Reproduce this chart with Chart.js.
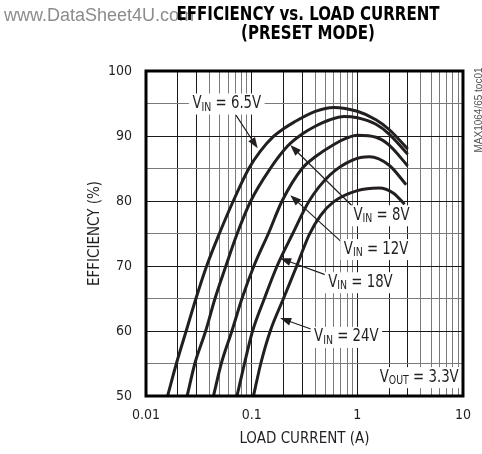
<!DOCTYPE html>
<html>
<head>
<meta charset="utf-8">
<script src="https://cdn.jsdelivr.net/npm/chart.js@4.4.1/dist/chart.umd.min.js"></script>
<style>
  html, body { margin: 0; padding: 0; background: #fff; }
</style>
</head>
<body>
<canvas id="effChart" width="482" height="454"></canvas>
<script>
// efficiency vs load current, one pair of arrays per input voltage
const seriesNames = ['6.5V', '8V', '12V', '18V', '24V'];

const current6v5 = [0.016, 0.0194, 0.024, 0.0297, 0.0375, 0.0495, 0.067, 0.094, 0.12, 0.16, 0.2, 0.25, 0.4, 0.6, 1, 1.5, 2, 3];
const eff6v5     = [50, 55, 60, 65, 70, 75, 80, 85, 87.6, 89.9, 91.1, 92.1, 93.8, 94.4, 93.8, 92.5, 91, 88];

const current8v = [0.0245, 0.029, 0.0367, 0.045, 0.057, 0.073, 0.098, 0.15, 0.22, 0.3, 0.4, 0.55, 0.75, 1, 1.5, 2, 3];
const eff8v     = [50, 55, 60, 65, 70, 75, 80, 85, 88.5, 90.3, 91.5, 92.5, 93, 92.8, 91.8, 90.3, 87.2];

const current12v = [0.0435, 0.0516, 0.065, 0.081, 0.105, 0.144, 0.194, 0.3, 0.4, 0.6, 0.8, 1, 1.5, 2, 3];
const eff12v     = [50, 55, 60, 65, 70, 75, 80, 85, 86.8, 88.7, 89.7, 90.1, 89.8, 88.6, 85.4];

const current18v = [0.0726, 0.0855, 0.102, 0.132, 0.174, 0.245, 0.35, 0.55, 0.9, 1.3, 2, 2.9];
const eff18v     = [50, 55, 60, 65, 70, 75, 80, 84, 86.3, 86.8, 85.5, 82.5];

const current24v = [0.104, 0.122, 0.15, 0.2, 0.267, 0.35, 0.45, 0.6, 1, 1.6, 2.2, 2.8];
const eff24v     = [50, 55, 60, 65, 70, 74.8, 77.8, 79.9, 81.6, 82, 81.2, 79.5];

// axis ticks
const xDecades = [0.01, 0.1, 1, 10];
const xDecadeLabels = ['0.01', '0.1', '1', '10'];
const yTicks = [50, 55, 60, 65, 70, 75, 80, 85, 90, 95, 100];

const COND = '"DejaVu Sans Condensed", "Liberation Sans Narrow", sans-serif';
const INK = '#231f20';

function pairs(xs, ys) {
  return xs.map((x, i) => ({ x: x, y: ys[i] }));
}

// callouts: text + where the arrow starts/ends, in data units (A, %)
const callouts = [
  { main: 'V', sub: 'IN', rest: ' = 6.5V', at: [0.0275, 95], from: [0.071, 93.2], to: [0.114, 88.1] },
  { main: 'V', sub: 'IN', rest: ' = 8V', at: [0.92, 77.8], from: [0.9, 79.2], to: [0.232, 88.6] },
  { main: 'V', sub: 'IN', rest: ' = 12V', at: [0.745, 72.6], from: [0.72, 73.6], to: [0.232, 80.9] },
  { main: 'V', sub: 'IN', rest: ' = 18V', at: [0.53, 67.5], from: [0.51, 68.6], to: [0.186, 71.2] },
  { main: 'V', sub: 'IN', rest: ' = 24V', at: [0.39, 59.1], from: [0.38, 60.2], to: [0.186, 62.0] },
  { main: 'V', sub: 'OUT', rest: ' = 3.3V', at: [1.63, 52.9] }
];

// text is squeezed horizontally to get closer to the condensed face of the original
const SQUEEZE = 0.87;

function drawCallText(ctx, c, x, y) {
  ctx.save();
  ctx.translate(x, y);
  ctx.scale(SQUEEZE, 1);
  ctx.font = '17px ' + COND;
  const w1 = ctx.measureText(c.main).width;
  const w3 = ctx.measureText(c.rest).width;
  ctx.font = '12px ' + COND;
  const w2 = ctx.measureText(c.sub).width;
  const total = w1 + w2 + w3;
  ctx.fillStyle = '#fff';
  ctx.fillRect(-4, -10, total + 8, 21);
  ctx.fillStyle = INK;
  ctx.textBaseline = 'middle';
  ctx.textAlign = 'left';
  ctx.font = '17px ' + COND;
  ctx.fillText(c.main, 0, 0);
  ctx.font = '12px ' + COND;
  ctx.fillText(c.sub, w1, 4);
  ctx.font = '17px ' + COND;
  ctx.fillText(c.rest, w1 + w2, 0);
  ctx.restore();
}

function drawArrow(ctx, x1, y1, x2, y2) {
  const ang = Math.atan2(y2 - y1, x2 - x1);
  const len = 11, half = 4;
  ctx.strokeStyle = INK;
  ctx.lineWidth = 1.2;
  ctx.beginPath();
  ctx.moveTo(x1, y1);
  ctx.lineTo(x2 - Math.cos(ang) * len * 0.8, y2 - Math.sin(ang) * len * 0.8);
  ctx.stroke();
  ctx.fillStyle = INK;
  ctx.beginPath();
  ctx.moveTo(x2, y2);
  ctx.lineTo(x2 - Math.cos(ang) * len - Math.sin(ang) * half, y2 - Math.sin(ang) * len + Math.cos(ang) * half);
  ctx.lineTo(x2 - Math.cos(ang) * len + Math.sin(ang) * half, y2 - Math.sin(ang) * len - Math.cos(ang) * half);
  ctx.closePath();
  ctx.fill();
}

const decor = {
  id: 'decor',
  beforeDatasetsDraw(chart) {
    const { ctx, scales } = chart;
    ctx.save();
    callouts.forEach(c => {
      if (c.from) {
        drawArrow(ctx,
          scales.x.getPixelForValue(c.from[0]), scales.y.getPixelForValue(c.from[1]),
          scales.x.getPixelForValue(c.to[0]), scales.y.getPixelForValue(c.to[1]));
      }
    });
    callouts.forEach(c => {
      drawCallText(ctx, c, scales.x.getPixelForValue(c.at[0]), scales.y.getPixelForValue(c.at[1]));
    });
    ctx.restore();
  },
  afterDraw(chart) {
    const { ctx, chartArea: a } = chart;
    ctx.save();
    // frame
    ctx.strokeStyle = '#000';
    ctx.lineWidth = 3;
    ctx.strokeRect(a.left, a.top, a.right - a.left, a.bottom - a.top);

    // watermark, then title over it
    ctx.fillStyle = '#8c8c8c';
    ctx.font = '18px "Liberation Sans", Arial, sans-serif';
    ctx.textAlign = 'left';
    ctx.textBaseline = 'alphabetic';
    ctx.fillText('www.DataSheet4U.com', 4, 21);

    ctx.save();
    ctx.translate(308, 0);
    ctx.scale(0.88, 1);
    ctx.fillStyle = '#000';
    ctx.font = 'bold 19px ' + COND;
    ctx.textAlign = 'center';
    ctx.fillText('EFFICIENCY vs. LOAD CURRENT', 0, 20);
    ctx.fillText('(PRESET MODE)', 0, 39);
    ctx.restore();

    // side code
    ctx.translate(479, 110);
    ctx.rotate(-Math.PI / 2);
    ctx.fillStyle = '#555';
    ctx.font = '10px "Liberation Sans", Arial, sans-serif';
    ctx.textAlign = 'center';
    ctx.textBaseline = 'middle';
    ctx.fillText('MAX1064/65 toc01', 0, 0);
    ctx.restore();
  }
};

const ctx = document.getElementById('effChart').getContext('2d');
new Chart(ctx, {
  type: 'line',
  data: {
    datasets: [
      { label: seriesNames[0], data: pairs(current6v5, eff6v5) },
      { label: seriesNames[1], data: pairs(current8v, eff8v) },
      { label: seriesNames[2], data: pairs(current12v, eff12v) },
      { label: seriesNames[3], data: pairs(current18v, eff18v) },
      { label: seriesNames[4], data: pairs(current24v, eff24v) }
    ]
  },
  options: {
    responsive: false,
    animation: false,
    events: [],
    layout: { padding: { left: 0, right: 10, top: 71, bottom: 0 } },
    elements: {
      point: { radius: 0 },
      line: { borderColor: INK, borderWidth: 3, cubicInterpolationMode: 'monotone', fill: false }
    },
    plugins: { legend: { display: false }, tooltip: { enabled: false }, title: { display: false } },
    scales: {
      x: {
        type: 'logarithmic',
        min: 0.01,
        max: 10,
        afterFit(scale) { scale.height = 58; },
        afterBuildTicks(scale) {
          const t = [];
          xDecades.forEach((d, i) => {
            t.push({ value: d });
            if (i < xDecades.length - 1) {
              for (let m = 2; m <= 9; m++) t.push({ value: Number((d * m).toPrecision(3)) });
            }
          });
          scale.ticks = t;
        },
        border: { display: false },
        grid: {
          drawTicks: false,
          lineWidth: 1,
          color(c) {
            const v = c.tick ? c.tick.value : 1;
            const m = Math.round(v / Math.pow(10, Math.floor(Math.log10(v) + 1e-9)));
            return m <= 3 ? '#1a1a1a' : '#7a7a7a';
          }
        },
        ticks: {
          autoSkip: false,
          maxRotation: 0,
          padding: 11,
          color: INK,
          font: { family: COND, size: 14 },
          callback(v) {
            const i = xDecades.indexOf(v);
            return i >= 0 ? xDecadeLabels[i] : '';
          }
        },
        title: {
          display: true,
          text: 'LOAD CURRENT (A)',
          color: INK,
          font: { family: COND, size: 15 },
          padding: { top: 0, bottom: 6 }
        }
      },
      y: {
        min: 50,
        max: 100,
        afterFit(scale) { scale.width = 146; },
        afterBuildTicks(scale) { scale.ticks = yTicks.map(v => ({ value: v })); },
        border: { display: false },
        grid: {
          drawTicks: false,
          lineWidth: 1,
          color(c) { return c.tick && c.tick.value % 10 === 0 ? '#1a1a1a' : '#7a7a7a'; }
        },
        ticks: {
          padding: 14,
          color: INK,
          font: { family: COND, size: 14 },
          callback(v) { return v % 10 === 0 ? String(v) : ''; }
        },
        title: {
          display: true,
          text: 'EFFICIENCY (%)',
          color: INK,
          font: { family: COND, size: 15 },
          padding: { top: 86, bottom: 0 }
        }
      }
    }
  },
  plugins: [decor]
});
</script>
</body>
</html>
